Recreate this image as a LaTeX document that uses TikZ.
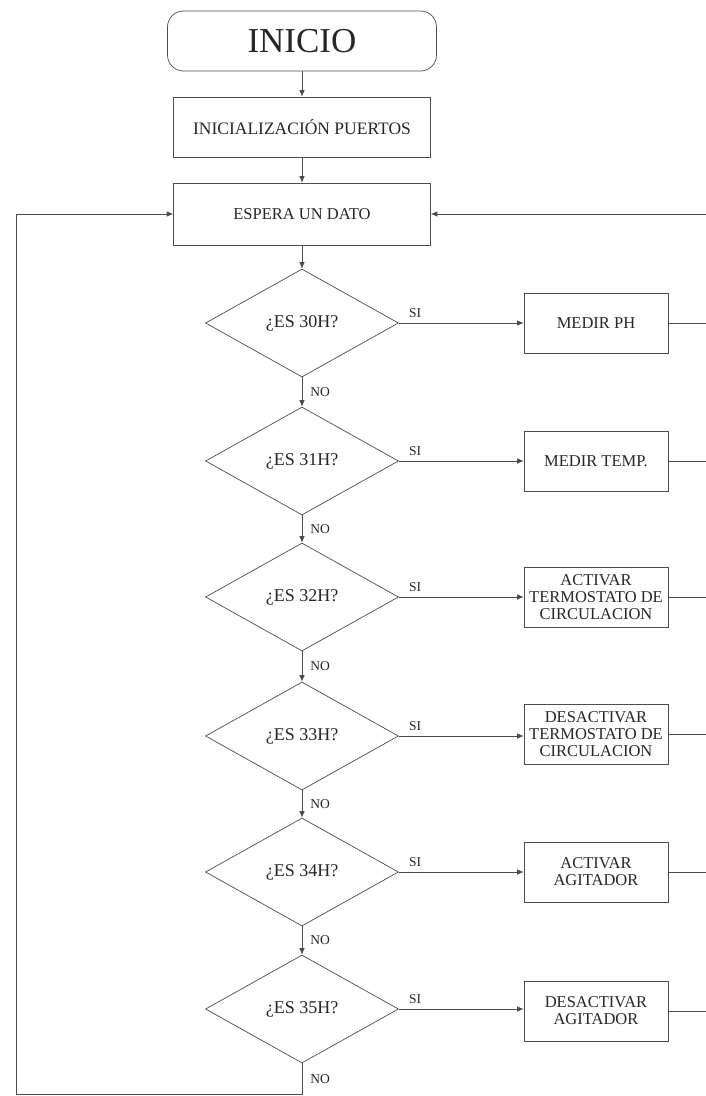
\documentclass[tikz,border=0pt]{standalone}
\usepackage{fontspec}
\setmainfont{Liberation Serif}
\usetikzlibrary{arrows.meta,shapes.geometric,positioning,calc}

\begin{document}
\begin{tikzpicture}[x=1pt, y=-1pt, font=\fontsize{16.5}{17}\selectfont,
    >={Latex[length=6.5pt,width=5.5pt]}]
    \tikzset{box/.style={draw=black!70, line width=0.7pt, minimum width=257pt,
             minimum height=60pt, align=center, text=black!85, inner sep=2pt},
             proc/.style={box, minimum width=144pt},
             ask/.style={diamond, draw=black!70, line width=0.7pt, minimum width=193pt,
             minimum height=108pt, inner sep=0pt, text=black!85,
             font=\fontsize{18}{18}\selectfont},
             lbl/.style={font=\fontsize{13.5}{14}\selectfont, text=black!85, inner sep=2pt},
             wire/.style={draw=black!70, line width=0.7pt},
             flow/.style={wire, ->}}
    \useasboundingbox (0,0) rectangle (705,1096);
    % inicio y espera
    \node[box, rounded corners=16pt, minimum width=269pt, minimum height=60pt,
          font=\fontsize{35}{35}\selectfont] (inicio) at (302,41) {INICIO};
    \node[box, font=\fontsize{17.5}{18}\selectfont] (puertos) at (302,127) {INICIALIZACIÓN PUERTOS};
    \node[box, minimum height=62pt] (espera) at (302,214) {ESPERA UN DATO};
    % preguntas
    \node[ask] (q30) at (302,323) {¿ES 30H?};
    \node[ask] (q31) at (302,461) {¿ES 31H?};
    \node[ask] (q32) at (302,597) {¿ES 32H?};
    \node[ask] (q33) at (302,736) {¿ES 33H?};
    \node[ask] (q34) at (302,872) {¿ES 34H?};
    \node[ask] (q35) at (302,1009) {¿ES 35H?};
    % acciones
    \node[proc] (ph)    at (596,323) {MEDIR PH};
    \node[proc] (temp)  at (596,461) {MEDIR TEMP.};
    \node[proc] (tOn)   at (596,597) {ACTIVAR\\TERMOSTATO DE\\CIRCULACION};
    \node[proc] (tOff)  at (596,734) {DESACTIVAR\\TERMOSTATO DE\\CIRCULACION};
    \node[proc] (agOn)  at (596,872) {ACTIVAR\\AGITADOR};
    \node[proc] (agOff) at (596,1011) {DESACTIVAR\\AGITADOR};
    \coordinate (rt) at (707,214);
    \coordinate (lb) at (16,1094);

    \draw[flow] (inicio) -- (puertos);
    \draw[flow] (puertos) -- (espera);
    \draw[flow] (espera) -- (q30);
    \draw[flow] (q30) -- (q31) node[lbl, midway, right, xshift=6pt] {NO};
    \draw[flow] (q31) -- (q32) node[lbl, midway, right, xshift=6pt] {NO};
    \draw[flow] (q32) -- (q33) node[lbl, midway, right, xshift=6pt] {NO};
    \draw[flow] (q33) -- (q34) node[lbl, midway, right, xshift=6pt] {NO};
    \draw[flow] (q34) -- (q35) node[lbl, midway, right, xshift=6pt] {NO};
    \draw[flow] (q30.east) -- (ph.west)    node[lbl, pos=0, anchor=south west, xshift=8pt, yshift=3pt] {SI};
    \draw[flow] (q31.east) -- (temp.west)  node[lbl, pos=0, anchor=south west, xshift=8pt, yshift=3pt] {SI};
    \draw[flow] (q32.east) -- (tOn.west)   node[lbl, pos=0, anchor=south west, xshift=8pt, yshift=3pt] {SI};
    \draw[flow] (q33.east) -- (tOff.west |- q33.east) node[lbl, pos=0, anchor=south west, xshift=8pt, yshift=3pt] {SI};
    \draw[flow] (q34.east) -- (agOn.west)  node[lbl, pos=0, anchor=south west, xshift=8pt, yshift=3pt] {SI};
    \draw[flow] (q35.east) -- (agOff.west |- q35.east) node[lbl, pos=0, anchor=south west, xshift=8pt, yshift=3pt] {SI};
    % vuelta por la derecha
    \draw[wire] (ph.east) -- (ph.east -| rt);
    \draw[wire] (temp.east) -- (temp.east -| rt);
    \draw[wire] (tOn.east) -- (tOn.east -| rt);
    \draw[wire] (tOff.east) -- (tOff.east -| rt);
    \draw[wire] (agOn.east) -- (agOn.east -| rt);
    \draw[flow] (agOff.east) -| (rt) -- (espera.east);
    % vuelta por la izquierda
    \draw[flow] (q35.south) |- (lb) node[lbl, pos=0.25, right, xshift=6pt] {NO} |- (espera.west);
\end{tikzpicture}
\end{document}
